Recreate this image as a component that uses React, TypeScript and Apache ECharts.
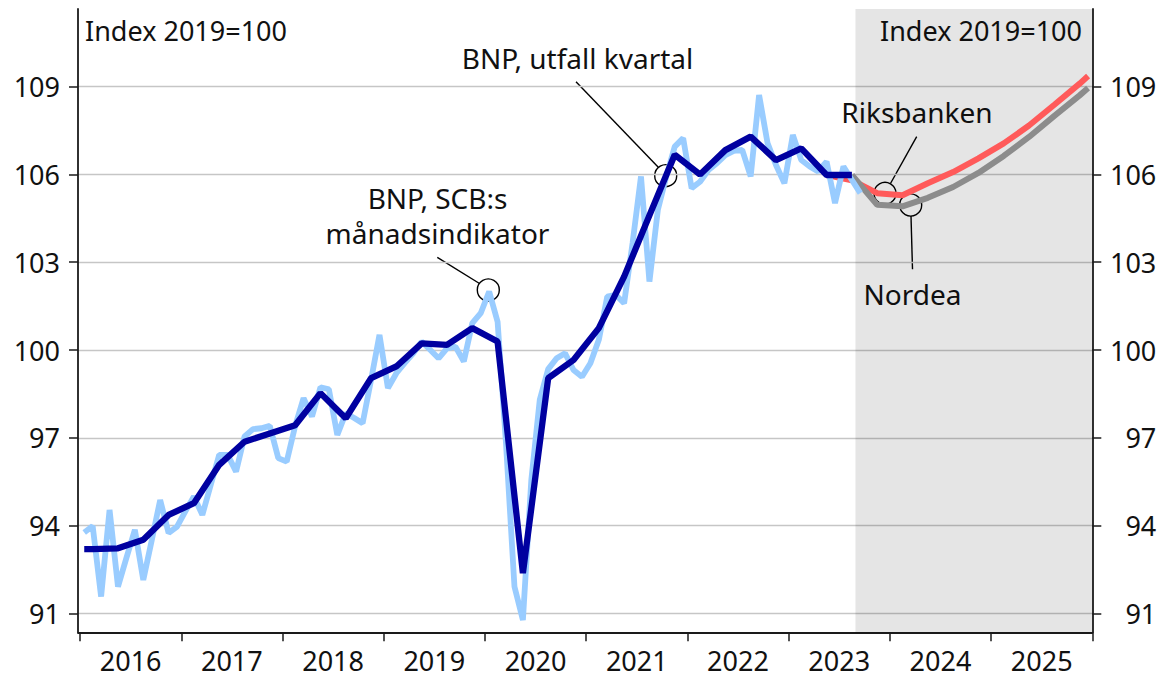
import React, { useEffect, useRef } from "react";
import * as echarts from "echarts";

// ---- Data ----
// Monthly GDP indicator (SCB), starting January 2016
const monthlyStart = 2016;
const monthlyIndicator = [
  93.77, 93.99, 91.58, 94.54, 91.92, 92.9, 93.86, 92.15, 93.5, 94.88, 93.75, 93.97,
  94.5, 95.0, 94.37, 95.4, 96.42, 96.42, 95.85, 97.05, 97.3, 97.33, 97.41, 96.31,
  96.19, 97.4, 98.36, 97.73, 98.73, 98.66, 97.1, 97.84, 97.68, 97.5, 98.98, 100.52,
  98.7, 99.21, 99.56, 99.89, 100.29, 100.01, 99.72, 100.06, 100.12, 99.61, 100.92, 101.26,
  102.0, 100.97, 96.8, 91.92, 90.78, 95.57, 98.3, 99.35, 99.72, 99.89, 99.32, 99.09,
  99.55, 100.35, 101.83, 101.89, 101.6, 103.65, 105.93, 102.34, 104.79, 105.93, 106.95, 107.24,
  105.53, 105.75, 106.15, 106.38, 106.66, 106.8, 106.84, 105.93, 108.71, 107.07, 106.32, 105.7,
  107.35, 106.49, 106.27, 106.1, 106.44, 105.02, 106.27, 105.81, 105.36,
];

// Quarterly GDP outcome, 2016 Q1 .. 2023 Q2
const quarterlyStart = 2016;
const quarterlyGdp = [
  93.2, 93.23, 93.52, 94.37,
  94.77, 96.08, 96.87, 97.15,
  97.43, 98.53, 97.67, 99.04,
  99.44, 100.23, 100.18, 100.75,
  100.29, 92.38, 99.04, 99.66,
  100.75, 102.51, 104.6, 106.67,
  106.0, 106.83, 107.29, 106.49,
  106.89, 105.98,
];

// Riksbanken forecast, 2023 Q2 .. 2025 Q4, plus December 2025
const riksbankenStartYear = 2023;
const riksbankenStartQuarter = 2;
const riksbanken = [105.98, 105.8, 105.36, 105.29, 105.7, 106.08, 106.55, 107.06, 107.67, 108.38, 109.1];
const riksbankenDec2025 = 109.36;

// Nordea forecast, 2023 Q3 .. 2025 Q4, plus December 2025
const nordeaStartYear = 2023;
const nordeaStartQuarter = 3;
const nordea = [105.98, 104.96, 104.91, 105.2, 105.57, 106.05, 106.63, 107.28, 108.0, 108.7];
const nordeaDec2025 = 108.95;

const forecastPeriodStart = 2023.66;
const axisEnd = 2026;

const yTicks = [91, 94, 97, 100, 103, 106, 109];
const yearTicks = [2016, 2017, 2018, 2019, 2020, 2021, 2022, 2023, 2024, 2025, 2026];
const yearLabels = [2016, 2017, 2018, 2019, 2020, 2021, 2022, 2023, 2024, 2025];

// ---- helpers (positions in decimal years) ----
const monthX = (startYear: number, i: number) => startYear + (i + 0.5) / 12;
const quarterX = (startYear: number, startQ: number, i: number) => {
  const q = startQ - 1 + i;
  return startYear + (q * 3 + 1.5) / 12;
};

const FONT = '"Noto Sans", "DejaVu Sans", sans-serif';
const ANN = 28;

export default function App() {
  const ref = useRef<HTMLDivElement>(null);

  useEffect(() => {
    document.body.style.margin = "0";
    if (!ref.current) return;
    const chart = echarts.init(ref.current, undefined, { renderer: "svg" });

    const monthlyData = monthlyIndicator.map((v, i) => [monthX(monthlyStart, i), v]);
    const quarterlyData: number[][] = [];
    quarterlyData.push([monthX(quarterlyStart, 0), quarterlyGdp[0]]);
    quarterlyGdp.forEach((v, i) => quarterlyData.push([quarterX(quarterlyStart, 1, i), v]));
    const lastQ = quarterX(quarterlyStart, 1, quarterlyGdp.length - 1);
    quarterlyData.push([lastQ + 0.25, quarterlyGdp[quarterlyGdp.length - 1]]);

    const rbData = riksbanken.map((v, i) => [quarterX(riksbankenStartYear, riksbankenStartQuarter, i), v]);
    rbData.push([monthX(2025, 11), riksbankenDec2025]);
    const ndData = nordea.map((v, i) => [quarterX(nordeaStartYear, nordeaStartQuarter, i), v]);
    ndData.push([monthX(2025, 11), nordeaDec2025]);

    const yAxisBase = {
      type: "value",
      min: 90.36,
      max: 111.65,
      axisLine: { show: true, lineStyle: { color: "#1a1a1a", width: 1.8 } },
      axisTick: {
        show: true,
        length: 9,
        lineStyle: { color: "#1a1a1a", width: 1.5 },
        customValues: yTicks,
      },
      axisLabel: {
        customValues: yTicks,
        color: "#111",
        fontSize: 27,
        fontFamily: FONT,
      },
    };

    const option: any = {
      animation: false,
      grid: { left: 78, right: 68.7, top: 9, bottom: 45.7, containLabel: false },
      xAxis: {
        type: "value",
        min: 2015.98,
        max: axisEnd,
        axisLine: { show: true, onZero: false, lineStyle: { color: "#1a1a1a", width: 1.8 } },
        axisTick: {
          show: true,
          length: 9,
          lineStyle: { color: "#1a1a1a", width: 1.5 },
          customValues: yearTicks,
        },
        axisLabel: {
          customValues: yearLabels.map((y) => y + 0.5),
          formatter: (v: number) => String(Math.floor(v)),
          color: "#111",
          fontSize: 27,
          lineHeight: 27,
          fontFamily: FONT,
          margin: 15,
        },
        splitLine: { show: false },
      },
      yAxis: [
        {
          ...yAxisBase,
          position: "left",
          axisLabel: { ...yAxisBase.axisLabel, margin: 18 },
          splitLine: { show: true, lineStyle: { color: "#c6c6c6", width: 1.3 } },
        },
        {
          ...yAxisBase,
          position: "right",
          axisLabel: { ...yAxisBase.axisLabel, margin: 64, align: "right" },
          splitLine: { show: false },
        },
      ],
      series: [
        {
          name: "Riksbanken",
          type: "line",
          data: rbData,
          showSymbol: false,
          silent: true,
          clip: false,
          lineStyle: { color: "#ff5a5a", width: 6 },
          markArea: {
            silent: true,
            itemStyle: { color: "rgba(0,0,0,0.1)" },
            data: [[{ xAxis: forecastPeriodStart }, { xAxis: axisEnd }]],
          },
        },
        {
          name: "Nordea",
          type: "line",
          data: ndData,
          showSymbol: false,
          silent: true,
          clip: false,
          lineStyle: { color: "#8c8c8c", width: 6 },
        },
        {
          name: "BNP, SCB:s månadsindikator",
          type: "line",
          data: monthlyData,
          showSymbol: false,
          silent: true,
          clip: false,
          lineStyle: { color: "#99ccff", width: 5.8 },
        },
        {
          name: "BNP, utfall kvartal",
          type: "line",
          data: quarterlyData,
          showSymbol: false,
          silent: true,
          clip: false,
          lineStyle: { color: "#0000a0", width: 6.3 },
        },
      ],
      graphic: [
        {
          type: "text",
          x: 85,
          y: 30.5,
          style: { text: "Index 2019=100", fontSize: 27, fontFamily: FONT, fill: "#111", align: "left", verticalAlign: "middle" },
        },
        {
          type: "text",
          x: 1082,
          y: 30.5,
          style: { text: "Index 2019=100", fontSize: 27, fontFamily: FONT, fill: "#111", align: "right", verticalAlign: "middle" },
        },
        {
          type: "text",
          x: 577.5,
          y: 58.3,
          style: { text: "BNP, utfall kvartal", fontSize: ANN, fontFamily: FONT, fill: "#111", align: "center", verticalAlign: "middle" },
        },
        {
          type: "text",
          x: 437.5,
          y: 215.8,
          style: {
            text: "BNP, SCB:s\nmånadsindikator",
            fontSize: ANN,
            lineHeight: 35,
            fontFamily: FONT,
            fill: "#111",
            align: "center",
            verticalAlign: "middle",
          },
        },
        {
          type: "text",
          x: 917,
          y: 112.2,
          style: { text: "Riksbanken", fontSize: ANN, fontFamily: FONT, fill: "#111", align: "center", verticalAlign: "middle" },
        },
        {
          type: "text",
          x: 912.5,
          y: 293.7,
          style: { text: "Nordea", fontSize: ANN, fontFamily: FONT, fill: "#111", align: "center", verticalAlign: "middle" },
        },
        // leader lines
        { type: "line", shape: { x1: 576, y1: 81.7, x2: 658.3, y2: 167.3 }, style: { stroke: "#000", lineWidth: 1.4 } },
        { type: "line", shape: { x1: 437.3, y1: 257.3, x2: 479.5, y2: 283.5 }, style: { stroke: "#000", lineWidth: 1.4 } },
        { type: "line", shape: { x1: 916.7, y1: 136.7, x2: 890.5, y2: 183.5 }, style: { stroke: "#000", lineWidth: 1.4 } },
        { type: "line", shape: { x1: 911, y1: 216, x2: 912.5, y2: 269.3 }, style: { stroke: "#000", lineWidth: 1.4 } },
        // circles
        { type: "circle", shape: { cx: 665.7, cy: 175.7, r: 11 }, style: { fill: "none", stroke: "#000", lineWidth: 1.4 } },
        { type: "circle", shape: { cx: 488.3, cy: 290, r: 11 }, style: { fill: "none", stroke: "#000", lineWidth: 1.4 } },
        { type: "circle", shape: { cx: 885, cy: 193.3, r: 11 }, style: { fill: "none", stroke: "#000", lineWidth: 1.4 } },
        { type: "circle", shape: { cx: 910.7, cy: 205, r: 11 }, style: { fill: "none", stroke: "#000", lineWidth: 1.4 } },
      ],
    };

    chart.setOption(option);
    return () => chart.dispose();
  }, []);

  return (
    <div
      ref={ref}
      style={{ position: "fixed", left: 0, top: 0, width: 1161, height: 678, background: "#fff" }}
    />
  );
}
